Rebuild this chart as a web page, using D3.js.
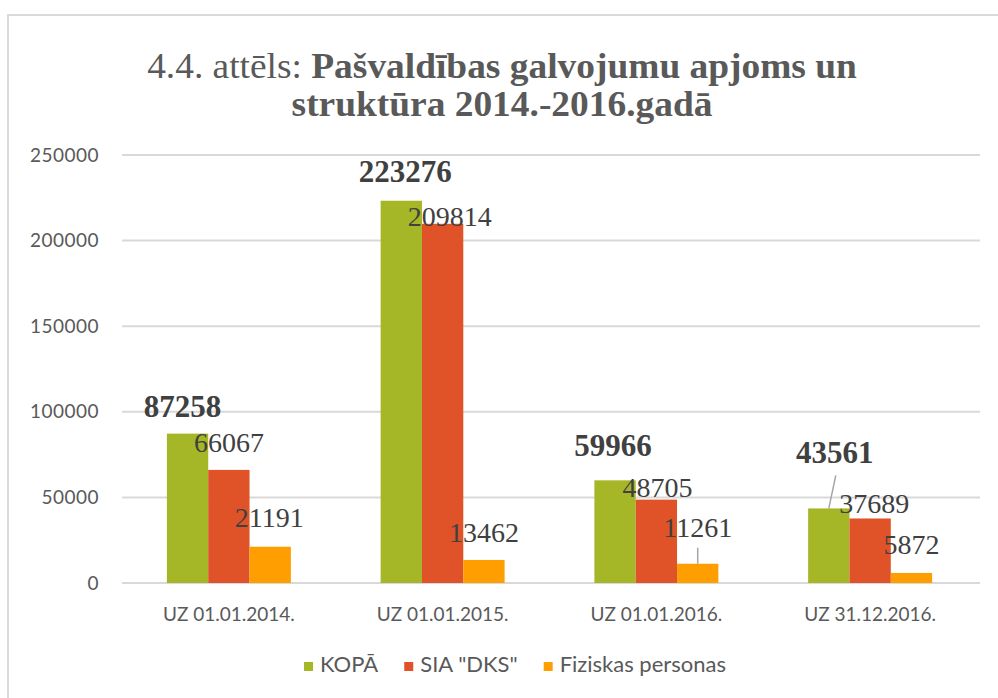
<!DOCTYPE html>
<html>
<head>
<meta charset="utf-8">
<script src="https://cdn.jsdelivr.net/npm/d3@7"></script>
<style>
  html, body { margin: 0; padding: 0; background: #fff; }
  svg { display: block; }
</style>
</head>
<body>
<svg id="chart" width="998" height="698"></svg>
<script>
// data
const categories = ["UZ 01.01.2014.", "UZ 01.01.2015.", "UZ 01.01.2016.", "UZ 31.12.2016."];
const seriesNames = ["KOPĀ", "SIA \"DKS\"", "Fiziskas personas"];
const kopa = [87258, 223276, 59966, 43561];
const dks = [66067, 209814, 48705, 37689];
const fiziskas = [21191, 13462, 11261, 5872];
const yTicks = [0, 50000, 100000, 150000, 200000, 250000];

// label nudges [dx, dy] from bar centre / bar top, per category then series
const labelNudge = [
  [[-5, -17], [0, -18], [-1, -20]],
  [[4, -19], [7, 2], [0, -18]],
  [[-2, -24], [1, -3], [0, -27]],
  [[6, -45], [4, -5], [0, -19]]
];

const clrs = ["#A5B627", "#E05328", "#FF9E00"];
const txtclr = "#595959";
const lblclr = "#404040";

const svg = d3.select("#chart");
const W = 998, H = 698;
const plotL = 122, plotR = 977, plotT = 155, plotB = 583;

// frame
svg.append("rect")
  .attr("x", 8).attr("y", 15)
  .attr("width", W + 10).attr("height", H + 10)
  .attr("fill", "none").attr("stroke", "#D9D9D9").attr("stroke-width", 2);

// title
const title = svg.append("g").attr("transform", "translate(502,0)");
const t1 = title.append("text")
  .attr("y", 78).attr("text-anchor", "middle")
  .style("font-family", "'Liberation Serif', 'Times New Roman', serif")
  .style("font-size", "36px").attr("fill", txtclr);
t1.append("tspan").text("4.4. attēls: ");
t1.append("tspan").style("font-weight", "bold").text("Pašvaldības galvojumu apjoms un");
const t2 = title.append("text")
  .attr("y", 116).attr("text-anchor", "middle")
  .style("font-family", "'Liberation Serif', 'Times New Roman', serif")
  .style("font-size", "36px").style("font-weight", "bold").attr("fill", txtclr)
  .text("struktūra 2014.-2016.gadā");
// squeeze title to match the narrow look
const w1 = t1.node().getComputedTextLength();
const sx = 710 / w1;
title.attr("transform", `translate(502,0) scale(${sx},1)`);

// scales
const y = d3.scaleLinear().domain([0, 250000]).range([plotB, plotT]);
const x0 = d3.scaleBand().domain(categories).range([plotL, plotR])
  .paddingInner(0.42).paddingOuter(0.21);
const x1 = d3.scaleBand().domain(d3.range(3)).range([0, x0.bandwidth()]);

// grid
svg.append("g").selectAll("line").data(yTicks).join("line")
  .attr("x1", plotL).attr("x2", plotR + 3)
  .attr("y1", d => y(d)).attr("y2", d => y(d))
  .attr("stroke", "#D9D9D9").attr("stroke-width", 2);

// y axis labels
const yAxis = d3.axisLeft(y).tickValues(yTicks).tickSize(0).tickPadding(0).tickFormat(d3.format("d"));
svg.append("g").attr("transform", "translate(99,0)").call(yAxis)
  .call(g => g.select(".domain").remove())
  .selectAll("text")
  .style("font-family", "Lato, 'Open Sans', sans-serif")
  .style("font-size", "19px").style("letter-spacing", "0.5px").attr("fill", txtclr);

// x axis labels
const xAxis = d3.axisBottom(x0).tickSize(0).tickPadding(0);
svg.append("g").attr("transform", `translate(0,${plotB + 24})`).call(xAxis)
  .call(g => g.select(".domain").remove())
  .selectAll("text")
  .style("font-family", "Lato, 'Open Sans', sans-serif")
  .style("font-size", "19px").attr("fill", txtclr);

// bars
const series = [kopa, dks, fiziskas];
const rows = [];
categories.forEach((c, i) => {
  series.forEach((s, j) => {
    rows.push({cat: c, ci: i, si: j, v: s[i]});
  });
});

svg.append("g").selectAll("rect").data(rows).join("rect")
  .attr("x", d => x0(d.cat) + x1(d.si))
  .attr("y", d => y(d.v))
  .attr("width", x1.bandwidth())
  .attr("height", d => y(0) - y(d.v))
  .attr("fill", d => clrs[d.si]);

// leader lines (pulled-away labels)
const leaders = [
  {ci: 2, si: 2, fromDx: 0, fromDy: -16},
  {ci: 3, si: 0, fromDx: 7, fromDy: -33}
];
svg.append("g").selectAll("line").data(leaders).join("line")
  .attr("x1", d => x0(categories[d.ci]) + x1(d.si) + x1.bandwidth() / 2 + d.fromDx)
  .attr("y1", d => y(series[d.si][d.ci]) + d.fromDy)
  .attr("x2", d => x0(categories[d.ci]) + x1(d.si) + x1.bandwidth() / 2)
  .attr("y2", d => y(series[d.si][d.ci]))
  .attr("stroke", "#A6A6A6").attr("stroke-width", 1.5);

// data labels
svg.append("g").selectAll("text").data(rows).join("text")
  .attr("x", d => x0(d.cat) + x1(d.si) + x1.bandwidth() / 2 + labelNudge[d.ci][d.si][0])
  .attr("y", d => y(d.v) + labelNudge[d.ci][d.si][1])
  .attr("text-anchor", "middle")
  .style("font-family", "'Liberation Serif', 'Times New Roman', serif")
  .style("font-size", d => d.si === 0 ? "31px" : "28px")
  .style("font-weight", d => d.si === 0 ? "bold" : "normal")
  .attr("fill", lblclr)
  .text(d => d.v);

// legend
const legend = svg.append("g");
let lx = 0;
seriesNames.forEach((n, i) => {
  const g = legend.append("g").attr("transform", `translate(${lx},0)`);
  g.append("rect").attr("x", 0).attr("y", -10).attr("width", 9).attr("height", 9).attr("fill", clrs[i]);
  const t = g.append("text").attr("x", 16).attr("y", 0)
    .style("font-family", "Lato, 'Open Sans', sans-serif")
    .style("font-size", "22px").attr("fill", txtclr).text(n);
  lx += 16 + t.node().getComputedTextLength() + 26;
});
const lw = lx - 26;
legend.attr("transform", `translate(${515 - lw / 2},672)`);
</script>
</body>
</html>
